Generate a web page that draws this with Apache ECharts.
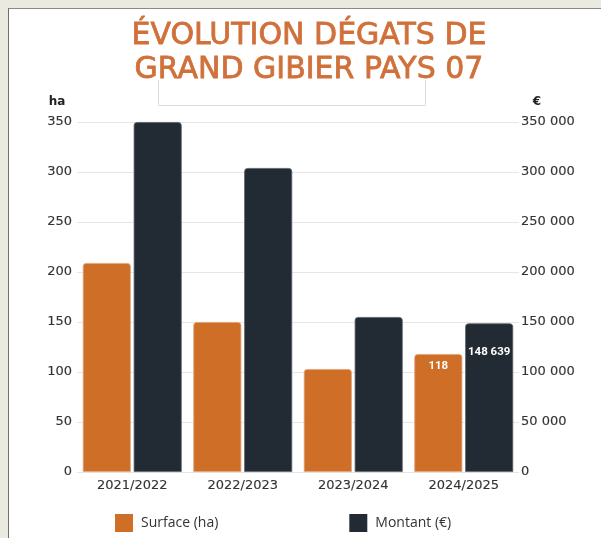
<!DOCTYPE html>
<html>
<head>
<meta charset="utf-8">
<style>
  html, body { margin: 0; padding: 0; background: #ebeae0; }
  #panel { position: absolute; left: 8px; top: 8px; width: 600px; height: 540px; background: #ffffff; border-left: 1px solid #6e6e6e; border-top: 1px solid #8a8a8a; }
  #chart { position: absolute; left: 0; top: 0; width: 601px; height: 538px; }
</style>
<script src="https://cdn.jsdelivr.net/npm/echarts@6/dist/echarts.min.js"></script>
</head>
<body>
<div id="panel"></div>
<div id="chart"></div>
<script>
const titleLines = ['ÉVOLUTION DÉGATS DE', 'GRAND GIBIER PAYS 07'];
const categories = ['2021/2022', '2022/2023', '2023/2024', '2024/2025'];
const surface = [209, 150, 103, 118];
const montant = [350000, 304000, 155000, 148639];
const labelledIndex = 3;

const fmtSpace = v => String(v).replace(/\B(?=(\d{3})+(?!\d))/g, ' ');

const chart = echarts.init(document.getElementById('chart'), null, { renderer: 'canvas' });
const axisFont = { fontFamily: 'DejaVu Sans', fontSize: 13, color: '#333', textBorderColor: '#555', textBorderWidth: 0.15 };

chart.setOption({
  backgroundColor: 'transparent',
  animation: false,
  title: {
    text: titleLines.join('\n'),
    left: 309,
    top: 19,
    textAlign: 'center',
    padding: 0,
    textStyle: { fontFamily: 'DejaVu Sans', fontSize: 30, fontWeight: 'normal', color: '#d0713b', lineHeight: 34, textBorderColor: '#d0713b', textBorderWidth: 0.8 }
  },
  graphic: [{
    type: 'polyline',
    z: -1,
    shape: { points: [[158.5, 80], [158.5, 105.5], [425.5, 105.5], [425.5, 80]] },
    style: { stroke: '#dcdcdc', lineWidth: 1, fill: null }
  }],
  legend: {
    left: 110,
    top: 509,
    itemWidth: 18,
    itemHeight: 18,
    itemGap: 131,
    icon: 'rect',
    itemStyle: { borderWidth: 0 },
    textStyle: { fontFamily: 'Open Sans', fontSize: 14, color: '#333', padding: [0, 0, 0, 3] },
    data: ['Surface (ha)', 'Montant (€)']
  },
  grid: { left: 77, right: 82, top: 122, bottom: 66 },
  xAxis: {
    type: 'category',
    data: categories,
    axisLine: { show: false },
    axisTick: { show: false },
    axisLabel: Object.assign({ margin: 7 }, axisFont)
  },
  yAxis: [{
    type: 'value',
    min: 0, max: 350, interval: 50,
    name: 'ha',
    nameLocation: 'end',
    nameGap: 14,
    nameTextStyle: { fontFamily: 'DejaVu Sans', fontSize: 12, fontWeight: 'bold', color: '#222', align: 'center', padding: [0, 40, 0, 0] },
    axisLine: { show: false },
    axisTick: { show: false },
    axisLabel: Object.assign({ margin: 5 }, axisFont),
    splitLine: { lineStyle: { color: '#e6e6e6', width: 1 } }
  }, {
    type: 'value',
    min: 0, max: 350000, interval: 50000,
    name: '€',
    nameLocation: 'end',
    nameGap: 14,
    nameTextStyle: { fontFamily: 'DejaVu Sans', fontSize: 12, fontWeight: 'bold', color: '#222', align: 'center', padding: [0, 0, 0, 36] },
    axisLine: { show: false },
    axisTick: { show: false },
    axisLabel: Object.assign({ margin: 2, formatter: fmtSpace }, axisFont),
    splitLine: { show: false }
  }],
  series: [{
    name: 'Surface (ha)',
    type: 'bar',
    yAxisIndex: 0,
    barWidth: 48,
    barGap: '6%',
    itemStyle: { color: '#cf6e27', borderRadius: [3, 3, 0, 0], borderColor: '#e0a57a', borderWidth: 0.8 },
    label: { show: false, position: 'insideTop', distance: 6, color: '#fff', fontFamily: 'Roboto', fontWeight: 'bold', fontSize: 11.5 },
    data: surface.map((v, i) => i === labelledIndex ? { value: v, label: { show: true } } : v)
  }, {
    name: 'Montant (€)',
    type: 'bar',
    yAxisIndex: 1,
    barWidth: 48,
    barGap: '6%',
    itemStyle: { color: '#222a33', borderRadius: [3, 3, 0, 0], borderColor: '#5a6068', borderWidth: 0.8 },
    label: { show: false, position: 'insideTop', distance: 23, color: '#fff', fontFamily: 'Roboto', fontWeight: 'bold', fontSize: 11.5, formatter: p => fmtSpace(p.value) },
    data: montant.map((v, i) => i === labelledIndex ? { value: v, label: { show: true } } : v)
  }]
});
</script>
</body>
</html>
